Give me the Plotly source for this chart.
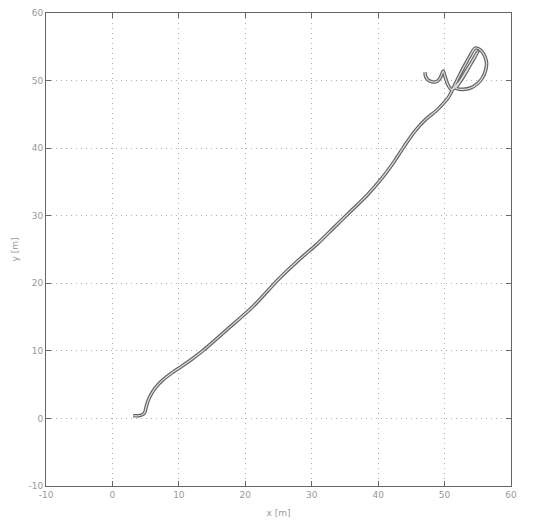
import plotly.graph_objects as go

# Vehicle path in the plane (metres)
x_m = [3.1, 3.9, 4.6, 4.9, 5.1, 5.4, 5.9, 6.6, 7.6, 8.9, 10.4, 12.0, 13.7,
       17.2, 21.2, 25.0, 28.0, 30.8, 33.3, 35.8, 38.3, 40.6, 42.4, 44.0,
       45.6, 47.2, 48.7, 50.0, 50.7, 51.2, 51.7, 52.3, 53.0, 53.8, 54.6,
       55.3, 55.9, 56.3, 56.2, 55.7, 54.9, 53.9, 52.8, 51.9, 51.6,
       52.3, 53.1, 54.0, 54.7, 55.0, 54.5, 53.8, 53.1, 52.4, 51.7, 51.0,
       50.5, 50.1, 49.8, 49.4, 48.9, 48.2, 47.5, 47.15, 47.05]
y_m = [0.4, 0.4, 0.6, 1.0, 1.8, 2.7, 3.7, 4.7, 5.7, 6.7, 7.7, 8.8, 10.1,
       13.1, 16.6, 20.6, 23.4, 25.8, 28.2, 30.6, 33.0, 35.6, 38.0, 40.4,
       42.6, 44.3, 45.5, 46.8, 47.7, 48.7, 49.7, 50.9, 52.2, 53.6, 54.8,
       54.6, 53.9, 52.8, 51.6, 50.4, 49.5, 48.9, 48.7, 48.8, 49.1,
       49.9, 51.2, 52.6, 53.8, 54.3, 53.4, 52.2, 51.0, 49.9, 49.0, 48.7,
       49.4, 50.5, 51.4, 50.5, 49.9, 49.8, 50.1, 50.6, 51.2]

tick_vals = [-10, 0, 10, 20, 30, 40, 50, 60]
tick_text = ["-10", "0", "10", "20", "30", "40", "50", "60"]

fig = go.Figure()
# dark outer stroke
fig.add_trace(go.Scatter(x=x_m, y=y_m, mode="lines",
                         line=dict(color="#666666", width=3.6, shape="spline", smoothing=0.8),
                         hoverinfo="skip", showlegend=False))
# light core gives the tube look
fig.add_trace(go.Scatter(x=x_m, y=y_m, mode="lines",
                         line=dict(color="#dddddd", width=1.2, shape="spline", smoothing=0.8),
                         showlegend=False))

axis_common = dict(
    tickmode="array", tickvals=tick_vals, ticktext=tick_text,
    range=[-10, 60], showline=True, linecolor="#666666", linewidth=1,
    mirror="ticks", ticks="inside", ticklen=5, tickcolor="#666666",
    showgrid=True, gridcolor="#b0b0b0", griddash="1px,4px", gridwidth=1,
    zeroline=False, automargin=False,
    tickfont=dict(family="DejaVu Sans", size=9, color="#999999"),
)

fig.update_layout(
    width=534, height=526,
    margin=dict(l=46, r=23, t=13, b=40),
    paper_bgcolor="white", plot_bgcolor="white",
    xaxis=dict(**axis_common,
               title=dict(text="x [m]", font=dict(family="DejaVu Sans", size=9, color="#999999"),
                          standoff=10)),
    yaxis=dict(**axis_common,
               title=dict(text="y [m]", font=dict(family="DejaVu Sans", size=9, color="#999999"),
                          standoff=8)),
)

fig.write_html("out.html")
